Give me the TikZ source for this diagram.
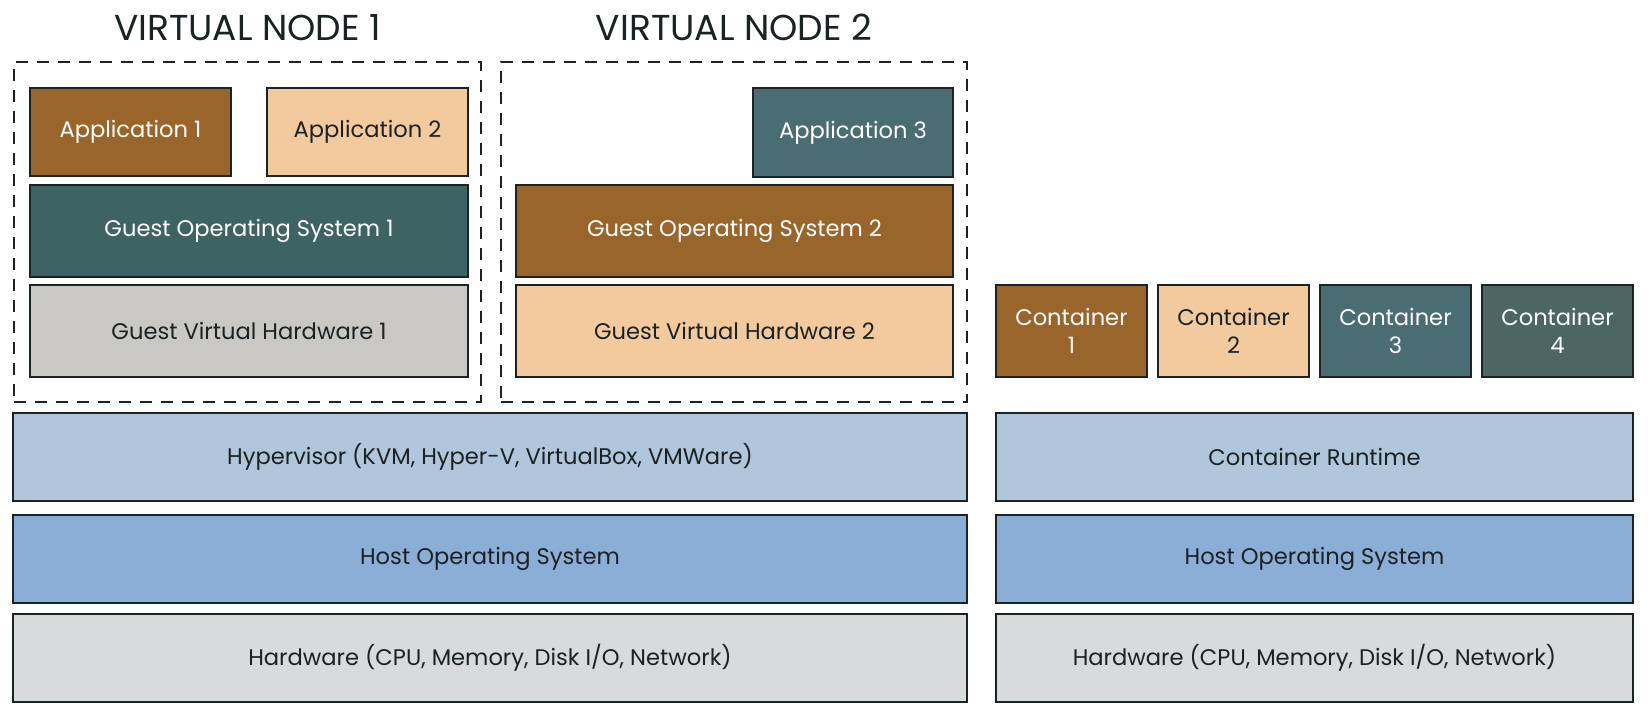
\documentclass[tikz,border=0pt]{standalone}
\usepackage{fontspec}
\setmainfont{Poppins}
\usetikzlibrary{positioning}

\definecolor{ink}{HTML}{1A2224}
\definecolor{edge}{HTML}{1B2424}
\definecolor{brn}{HTML}{9A652B}
\definecolor{pch}{HTML}{F3CA9E}
\definecolor{teala}{HTML}{3E6363}
\definecolor{tealb}{HTML}{4A6D73}
\definecolor{tealc}{HTML}{4C6763}
\definecolor{gvhgray}{HTML}{C9C8C4}
\definecolor{hypblue}{HTML}{B0C6DA}
\definecolor{hostblue}{HTML}{8AAED6}
\definecolor{hwgray}{HTML}{D9DADC}

\begin{document}
\begin{tikzpicture}[x=0.5pt,y=-0.5pt,node distance=2.8pt,semithick]
	  \tikzstyle{box}=[rectangle,draw=edge,line width=1.2pt,inner sep=0pt,align=center,text=ink,font=\fontsize{11.3}{14}\selectfont]
	  \tikzstyle{layer}=[box,minimum height=44pt]
	  \tikzstyle{frame}=[rectangle,draw=edge,line width=1pt,dash pattern=on 6pt off 4.5pt,inner sep=0pt]
	  \tikzstyle{title}=[inner sep=0pt,text=ink,font=\fontsize{18}{22}\selectfont]

	  \useasboundingbox (0,0) rectangle (1650,718);

	  \node[frame,minimum width=233.5pt,minimum height=170pt] (vn1) at (247.5,232) {};
	  \node[frame,minimum width=233pt,minimum height=170pt] (vn2) at (734,232) {};
	  \node[title,above=10pt of vn1] (t1) {VIRTUAL NODE 1};
	  \node[title,above=10pt of vn2] (t2) {VIRTUAL NODE 2};

	  \node[box,fill=gvhgray,minimum width=219pt,minimum height=46pt] (gvh1) at (249,331) {Guest Virtual Hardware 1};
	  \node[box,fill=teala,text=white,minimum width=219pt,minimum height=46pt] (gos1) [above=of gvh1] {Guest Operating System 1};
	  \node[box,fill=brn,text=white,minimum width=100.5pt,minimum height=44pt] (app1) [above=3.3pt of gos1.north west,anchor=south west] {Application 1};
	  \node[box,fill=pch,minimum width=100.5pt,minimum height=44pt] (app2) [above=3.3pt of gos1.north east,anchor=south east] {Application 2};

	  \node[box,fill=pch,minimum width=218.5pt,minimum height=46pt] (gvh2) at (734.5,331) {Guest Virtual Hardware 2};
	  \node[box,fill=brn,text=white,minimum width=218.5pt,minimum height=46pt] (gos2) [above=of gvh2] {Guest Operating System 2};
	  \node[box,fill=tealb,text=white,minimum width=100pt,minimum height=44.5pt] (app3) [above=2.8pt of gos2.north east,anchor=south east] {Application 3};

	  \node[layer,fill=hypblue,minimum width=477pt] (hyp1) at (490,457) {Hypervisor (KVM, Hyper-V, VirtualBox, VMWare)};
	  \node[layer,fill=hostblue,minimum width=477pt] (host1) [below=5.8pt of hyp1] {Host Operating System};
	  \node[layer,fill=hwgray,minimum width=477pt] (hw1) [below=4.3pt of host1] {Hardware (CPU, Memory, Disk I/O, Network)};

	  \node[layer,fill=hypblue,minimum width=318.5pt] (hyp2) [right=13.3pt of hyp1] {Container Runtime};
	  \node[layer,fill=hostblue,minimum width=318.5pt] (host2) [below=5.8pt of hyp2] {Host Operating System};
	  \node[layer,fill=hwgray,minimum width=318.5pt] (hw2) [below=4.3pt of host2] {Hardware (CPU, Memory, Disk I/O, Network)};

	  \foreach \i/\col/\txt in {1/brn/white,2/pch/ink,3/tealb/white,4/tealc/white}
	    \node[box,fill=\col,text=\txt,minimum width=75.5pt,minimum height=46pt] (c\i) at ({909.5+162*\i},331) {Container\\\i};
	\end{tikzpicture}
\end{document}
